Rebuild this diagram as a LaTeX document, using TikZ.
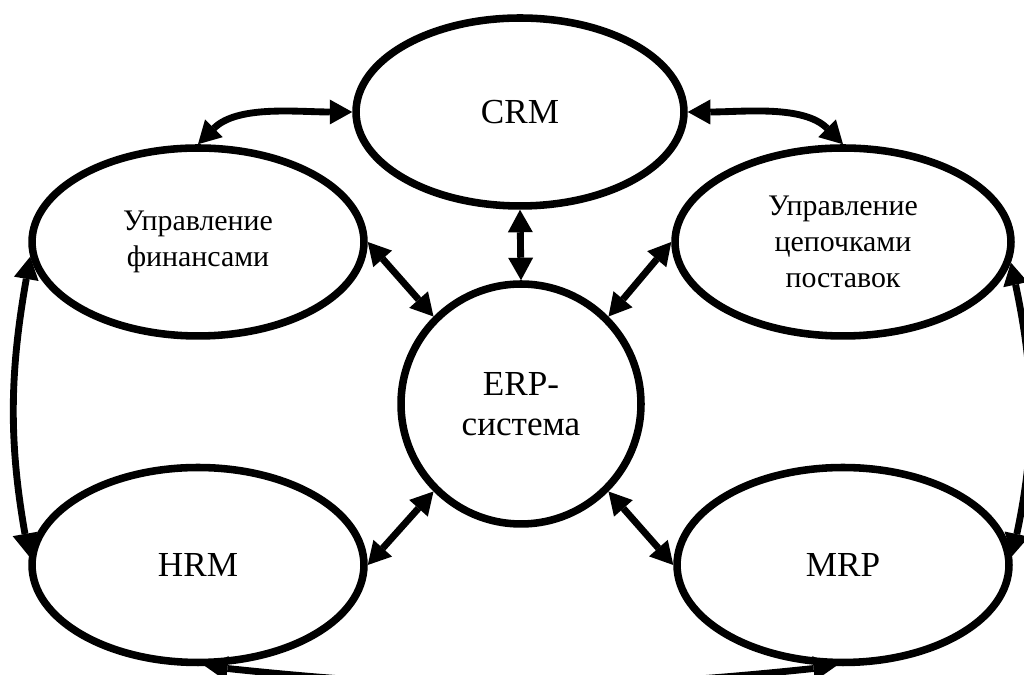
\documentclass[tikz,border=0pt]{standalone}
\usepackage{fontspec}
\setmainfont{Liberation Serif}
\usetikzlibrary{arrows.meta,shapes.geometric}

\begin{document}
\begin{tikzpicture}[x=0.02cm, y=0.02cm,
    module/.style={ellipse, draw, line width=4.3pt, minimum width=6.64cm, minimum height=3.76cm, align=center, inner sep=0pt},
    core/.style={circle, draw, line width=4.3pt, minimum size=4.8cm, align=center, inner sep=0pt},
    big/.style={font=\fontsize{20}{23}\selectfont},
    small/.style={font=\fontsize{17}{20.5}\selectfont},
    link/.style={line width=3.9pt, {Triangle[length=0.45cm, width=0.5cm, line width=0pt]}-{Triangle[length=0.45cm, width=0.5cm, line width=0pt]}}]
    \useasboundingbox (0,0) rectangle (1024,675);
    \clip (0,0) rectangle (1024,675);

    % Modules
    \node[module, big, minimum width=6.56cm] (crm) at (520,563) {CRM};
    \node[module, small] (fin) at (198,433) {Управление\\финансами};
    \node[module, small, minimum width=6.72cm] (sup) at (843,433) {Управление\\цепочками\\поставок};
    \node[core, big] (erp) at (521,271) {ERP-\\система};
    \node[module, big, minimum height=3.9cm] (hrm) at (198,110) {HRM};
    \node[module, big, minimum height=3.9cm] (mrp) at (843,110) {MRP};

    % Links to the core
    \draw[link] (crm.south) -- (erp.north);
    \draw[link] (fin.east) -- (erp.north west);
    \draw[link] (sup.west) -- (erp.north east);
    \draw[link] (hrm.east) -- (erp.south west);
    \draw[link] (mrp.west) -- (erp.south east);

    % Links between modules
    \draw[link] (fin.north) to[out=45, in=180, looseness=0.9] (crm.west);
    \draw[link] (crm.east) to[out=0, in=135, looseness=0.9] (sup.north);
    \draw[link] (fin.185) to[out=260, in=100] (hrm.177);
    \draw[link] (sup.-7) to[out=-78, in=78] (mrp.3);
    \draw[link] (hrm.-86) to[out=-6, in=186] (mrp.-94);
\end{tikzpicture}
\end{document}
